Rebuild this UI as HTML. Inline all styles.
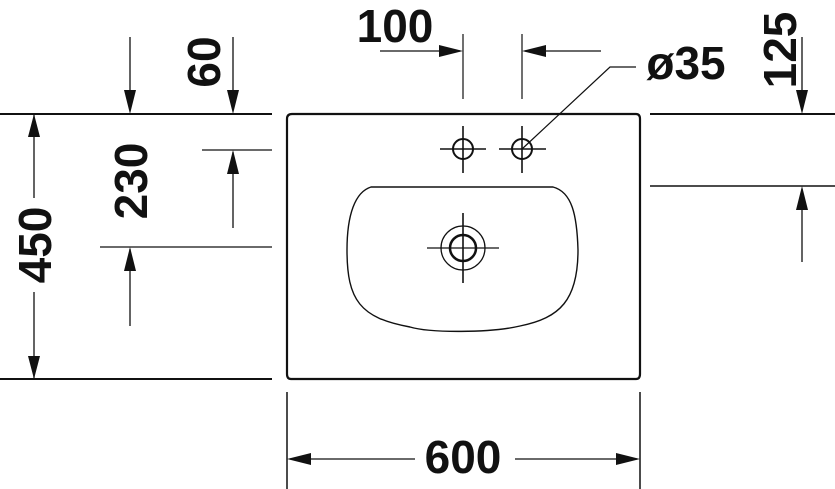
<!DOCTYPE html>
<html><head><meta charset="utf-8"><style>
html,body{margin:0;padding:0;background:#fff;}
svg{display:block}
text{font-family:"Liberation Sans Narrow","Liberation Sans",sans-serif;font-weight:bold;font-size:46px;fill:#111;}
</style></head><body>
<svg width="835" height="489" viewBox="0 0 835 489" xmlns="http://www.w3.org/2000/svg">
<g stroke="#111" fill="none">
<!-- extension lines -->
<line x1="0" y1="114" x2="272" y2="114" stroke-width="2"/>
<line x1="0" y1="379" x2="272" y2="379" stroke-width="2"/>
<line x1="650" y1="114" x2="835" y2="114" stroke-width="2"/>
<line x1="650" y1="186" x2="835" y2="186" stroke-width="1.5"/>
<line x1="202" y1="150" x2="272" y2="150" stroke-width="1.2"/>
<line x1="100" y1="247" x2="272" y2="247" stroke-width="1.2"/>
<line x1="463" y1="34" x2="463" y2="99" stroke-width="1.2"/>
<line x1="522" y1="34" x2="522" y2="99" stroke-width="1.2"/>
<line x1="287" y1="392" x2="287" y2="489" stroke-width="1.5"/>
<line x1="640" y1="392" x2="640" y2="489" stroke-width="1.5"/>
<!-- dim lines -->
<line x1="34" y1="114" x2="34" y2="198" stroke-width="1.3"/>
<line x1="34" y1="292" x2="34" y2="379" stroke-width="1.3"/>
<line x1="130" y1="37" x2="130" y2="110" stroke-width="1.3"/>
<line x1="233" y1="37" x2="233" y2="110" stroke-width="1.3"/>
<line x1="233" y1="152" x2="233" y2="228" stroke-width="1.3"/>
<line x1="130" y1="249" x2="130" y2="326" stroke-width="1.3"/>
<line x1="380" y1="51" x2="460" y2="51" stroke-width="1.3"/>
<line x1="525" y1="51" x2="601" y2="51" stroke-width="1.3"/>
<line x1="802" y1="37" x2="802" y2="110" stroke-width="1.3"/>
<line x1="802" y1="189" x2="802" y2="262" stroke-width="1.3"/>
<line x1="290" y1="459" x2="415" y2="459" stroke-width="1.3"/>
<line x1="515" y1="459" x2="637" y2="459" stroke-width="1.3"/>
<!-- leader -->
<polyline points="636,67 610,67 522,149" stroke-width="1.2"/>
<!-- basin -->
<path d="M292,114 L636,114 Q640,114 640,119 L640,374 Q640,379 636,379 L291,379 Q287,379 287,374 L287,119 Q287,114 292,114 Z" stroke-width="2.2"/>
<path d="M371,187 L553,187 C572,192 577,215 578,250 C578,300 560,318 520,326 C490,333 430,333 410,327 C360,318 347,300 347,250 C347,215 355,192 371,187 Z" stroke-width="1.4"/>
<!-- faucet holes -->
<circle cx="463" cy="149" r="10" stroke-width="2"/>
<circle cx="522" cy="149" r="10" stroke-width="2"/>
<line x1="440" y1="149" x2="486" y2="149" stroke-width="1.6"/>
<line x1="463" y1="126" x2="463" y2="173" stroke-width="1.6"/>
<line x1="499" y1="149" x2="546" y2="149" stroke-width="1.6"/>
<line x1="522" y1="126" x2="522" y2="173" stroke-width="1.6"/>
<!-- drain -->
<circle cx="463" cy="248" r="22" stroke-width="1.3"/>
<circle cx="463" cy="248" r="13" stroke-width="2.5"/>
<line x1="427" y1="248" x2="499" y2="248" stroke-width="1.3"/>
<line x1="463" y1="213" x2="463" y2="283" stroke-width="1.6"/>
</g>
<!-- arrowheads -->
<g fill="#111">
<polygon points="34,114 28,137 40,137"/>
<polygon points="34,379 28,356 40,356"/>
<polygon points="130,114 124,90 136,90"/>
<polygon points="233,114 227,90 239,90"/>
<polygon points="233,150 227,174 239,174"/>
<polygon points="130,247 124,271 136,271"/>
<polygon points="463,51 439,45 439,57"/>
<polygon points="522,51 546,45 546,57"/>
<polygon points="802,114 796,90 808,90"/>
<polygon points="802,186 796,210 808,210"/>
<polygon points="287,459 311,453 311,465"/>
<polygon points="640,459 616,453 616,465"/>
</g>
<!-- labels -->
<text x="395" y="42" text-anchor="middle">100</text>
<text x="686" y="79" text-anchor="middle">ø35</text>
<text x="463" y="473" text-anchor="middle">600</text>
<text transform="translate(220,62) rotate(-90)" text-anchor="middle">60</text>
<text transform="translate(147,181) rotate(-90)" text-anchor="middle">230</text>
<text transform="translate(51,245) rotate(-90)" text-anchor="middle">450</text>
<text transform="translate(796,50) rotate(-90)" text-anchor="middle">125</text>
</svg>
</body></html>
